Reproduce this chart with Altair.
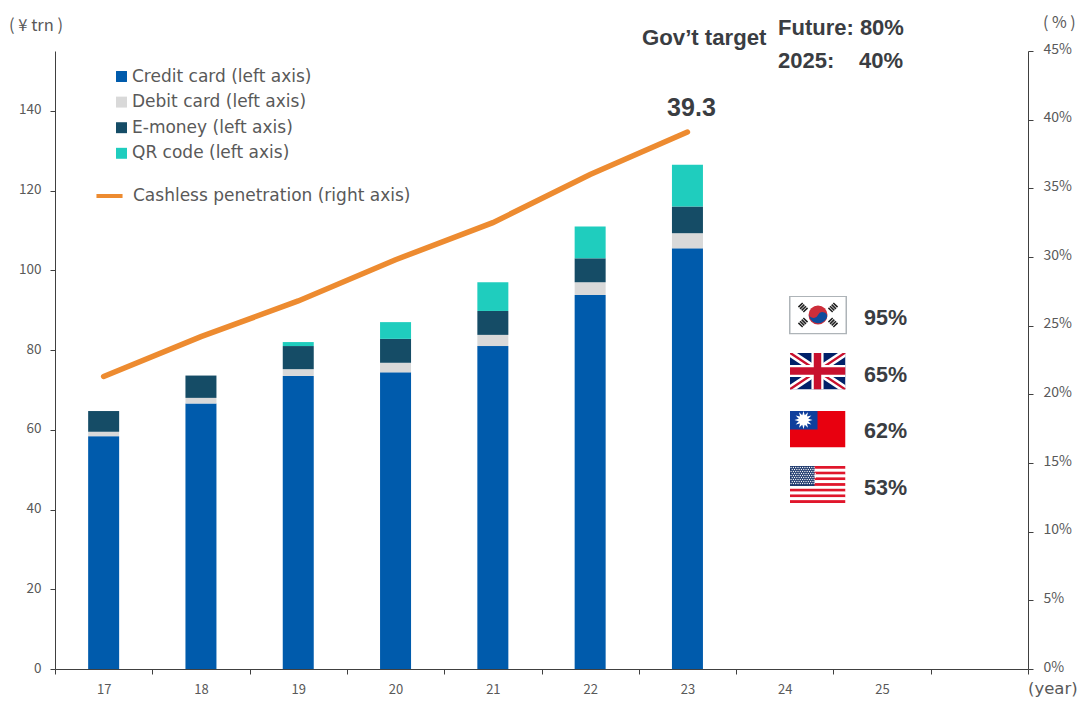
import base64
import altair as alt
import pandas as pd

years = ["17", "18", "19", "20", "21", "22", "23"]
all_bands = ["17", "18", "19", "20", "21", "22", "23", "24", "25", " "]
credit = [58.4, 66.6, 73.5, 74.4, 81.0, 93.8, 105.5]
debit = [1.1, 1.4, 1.7, 2.4, 2.8, 3.2, 3.8]
emoney = [5.2, 5.6, 5.8, 6.0, 6.0, 6.0, 6.7]
qr = [0.0, 0.0, 1.0, 4.2, 7.2, 8.0, 10.5]
penetration = [21.3, 24.2, 26.8, 29.8, 32.5, 36.0, 39.1]
series_names = ["Credit card (left axis)", "Debit card (left axis)", "E-money (left axis)", "QR code (left axis)"]
series_colors = ["#005BAC", "#D9D9D9", "#154C66", "#1FCDBE"]
line_name = "Cashless penetration (right axis)"

LABEL_FONT = "Noto Sans CJK JP"
LEGEND_FONT = "DejaVu Sans"
BOLD_FONT = "Liberation Sans"
GREY = "#595959"
DARK = "#3A3D42"
AXIS = "#404040"

rows = []
for name, vals in zip(series_names, [credit, debit, emoney, qr]):
    for y, v in zip(years, vals):
        rows.append({"year": y, "series": name, "value": v, "rank": series_names.index(name)})
bars_df = pd.DataFrame(rows)
line_df = pd.DataFrame({"year": years, "pen": penetration, "name": line_name})

x_scale = alt.Scale(domain=all_bands, paddingInner=0, paddingOuter=0)
x_enc = alt.X("year:N", scale=x_scale, sort=None, axis=alt.Axis(
    title=None, labelAngle=0, labelFont=LABEL_FONT, labelFontSize=13, labelColor=GREY,
    tickBand="extent", tickSize=5, tickColor=AXIS, domainColor=AXIS, labelPadding=9, grid=False))

bars = alt.Chart(bars_df).mark_bar(size=31).encode(
    x=x_enc,
    y=alt.Y("value:Q", stack="zero", scale=alt.Scale(domain=[0, 155], nice=False), axis=alt.Axis(
        title=None, values=list(range(0, 160, 20)), labelFont=LABEL_FONT, labelFontSize=13.5,
        labelColor=GREY, tickSize=5, tickColor=AXIS, domainColor=AXIS, grid=False, labelPadding=9, labelOffset=-1)),
    color=alt.Color("series:N", scale=alt.Scale(domain=series_names, range=series_colors), legend=alt.Legend(
        title=None, orient="none", legendX=58, legendY=17, symbolType="square", symbolSize=120,
        labelFont=LEGEND_FONT, labelFontSize=17, labelColor=GREY, rowPadding=7.6, symbolStrokeWidth=0,
        labelOffset=2, labelLimit=400)),
    order=alt.Order("rank:Q", sort="ascending"),
)

line = alt.Chart(line_df).mark_line(strokeWidth=5.5, strokeCap="round", color="#ED8B30").encode(
    x=alt.X("year:N", scale=x_scale, sort=None),
    y=alt.Y("pen:Q", scale=alt.Scale(domain=[0, 45], nice=False), axis=alt.Axis(
        orient="right", title=None, values=list(range(0, 50, 5)), labelExpr="datum.value + '%'",
        labelFont=LABEL_FONT, labelFontSize=14, labelColor=GREY, tickSize=5, tickColor=AXIS,
        domainColor=AXIS, grid=False, labelPadding=10, labelOffset=-2)),
    stroke=alt.Stroke("name:N", scale=alt.Scale(domain=[line_name], range=["#ED8B30"]), legend=alt.Legend(
        title=None, orient="none", legendX=39, legendY=129.5, symbolType="stroke", symbolStrokeWidth=4,
        symbolSize=680, labelFont=LEGEND_FONT, labelFontSize=17, labelColor=GREY, labelOffset=8, labelLimit=400)),
)

end_label = alt.Chart(line_df[line_df["year"] == "23"]).mark_text(
    text="39.3", font=BOLD_FONT, fontWeight="bold", fontSize=25, color=DARK, dx=4, dy=-24
).encode(
    x=alt.X("year:N", scale=x_scale, sort=None),
    y=alt.Y("pen:Q", scale=alt.Scale(domain=[0, 45], nice=False), axis=None),
)

one = pd.DataFrame({"k": [0]})

def note(text, x, y, size, font=LABEL_FONT, weight="normal", color=GREY, align="left"):
    return alt.Chart(one).mark_text(text=text, font=font, fontWeight=weight, fontSize=size, color=color,
                                    align=align, baseline="middle").encode(x=alt.value(x), y=alt.value(y))

def data_uri(svg):
    return "data:image/svg+xml;base64," + base64.b64encode(svg.encode()).decode()

KR = ('<svg xmlns="http://www.w3.org/2000/svg" width="58" height="39" viewBox="0 0 58 39">'
      '<rect x="0.75" y="0.75" width="56.5" height="37.5" fill="#fff" stroke="#AEB4B8" stroke-width="1.5"/>'
      '<circle cx="29" cy="19.5" r="9.5" fill="#CD2E3A"/>'
      '<path d="M19.8 17.5a9.5 9.5 0 0 0 18.4 4 4.8 4.8 0 0 0-9.2-2 4.8 4.8 0 0 1-9.2-2z" fill="#0F4C9C"/>'
      '<g stroke="#222" stroke-width="6" stroke-dasharray="1.6 .7">'
      '<path d="M11 9 17 15"/><path d="M41 9 47 15" transform="rotate(90 44 12)"/>'
      '<path d="M11 24 17 30" transform="rotate(90 14 27)"/><path d="M41 24 47 30"/></g></svg>')
GB = ('<svg xmlns="http://www.w3.org/2000/svg" width="56" height="37" viewBox="0 0 60 40" preserveAspectRatio="none">'
      '<rect width="60" height="40" fill="#012169"/>'
      '<path d="M0 0 60 40M60 0 0 40" stroke="#fff" stroke-width="8"/>'
      '<path d="M0 0 60 40M60 0 0 40" stroke="#C8102E" stroke-width="2.6"/>'
      '<path d="M30 0V40M0 20H60" stroke="#fff" stroke-width="13"/>'
      '<path d="M30 0V40M0 20H60" stroke="#C8102E" stroke-width="8"/></svg>')
sun = "".join(f'<path d="M20.5 4.5 22.7 12 18.3 12z" fill="#fff" transform="rotate({a} 20.5 13.5)"/>' for a in range(0, 360, 30))
TW = ('<svg xmlns="http://www.w3.org/2000/svg" width="56" height="37" viewBox="0 0 56 37">'
      '<rect width="56" height="37" fill="#E8000F"/><rect width="28" height="19" fill="#0F3F9C"/>'
      '<g transform="translate(-6.5 -4)">' + sun + '<circle cx="20.5" cy="13.5" r="4.8" fill="#fff"/></g></svg>')
stripes = "".join(f'<rect y="{i * 37 / 13:.2f}" width="56" height="{37 / 13:.2f}" fill="{"#E0162B" if i % 2 == 0 else "#fff"}"/>' for i in range(13))
dots = "".join(f'<circle cx="{1.6 + c * 2.3 + (r % 2) * 1.15:.2f}" cy="{1.5 + r * 2.0:.2f}" r="0.65" fill="#fff"/>'
               for r in range(9) for c in range(11))
US = ('<svg xmlns="http://www.w3.org/2000/svg" width="56" height="37" viewBox="0 0 56 37">' + stripes +
      '<rect width="25" height="20" fill="#1F3A6E"/>' + dots + '</svg>')

def flag(svg, cx, cy, w, h):
    return alt.Chart(one).mark_image(url=data_uri(svg), width=w, height=h, aspect=False).encode(
        x=alt.value(cx), y=alt.value(cy))

layers = [
    bars, line, end_label,
    note("( ¥ trn )", -46, -25, 16.5),
    note("( % )", 988, -28, 16),
    note("(year)", 973, 638, 16.5, LEGEND_FONT),
    note("Gov’t target", 587, -13, 22.2, BOLD_FONT, "bold", DARK),
    note("Future: 80%", 723, -23, 22, BOLD_FONT, "bold", DARK),
    note("2025:", 723, 10, 22, BOLD_FONT, "bold", DARK),
    note("40%", 804, 10, 22, BOLD_FONT, "bold", DARK),
    note("95%", 809, 268, 21.5, BOLD_FONT, "bold", DARK),
    note("65%", 809, 325, 21.5, BOLD_FONT, "bold", DARK),
    note("62%", 809, 381, 21.5, BOLD_FONT, "bold", DARK),
    note("53%", 809, 438, 21.5, BOLD_FONT, "bold", DARK),
    flag(KR, 763, 264, 58, 39),
    flag(GB, 762.5, 320, 56, 37),
    flag(TW, 762.5, 378, 56, 37),
    flag(US, 762.5, 433.5, 56, 37),
]

chart = alt.layer(*layers).resolve_scale(y="independent", color="independent").properties(
    width=973, height=618, padding={"left": 47, "top": 43, "right": 52, "bottom": 29},
    autosize=alt.AutoSizeParams(type="none"),
).configure_view(stroke=None)

chart.save("out.html", embed_options={"renderer": "svg", "actions": False})
